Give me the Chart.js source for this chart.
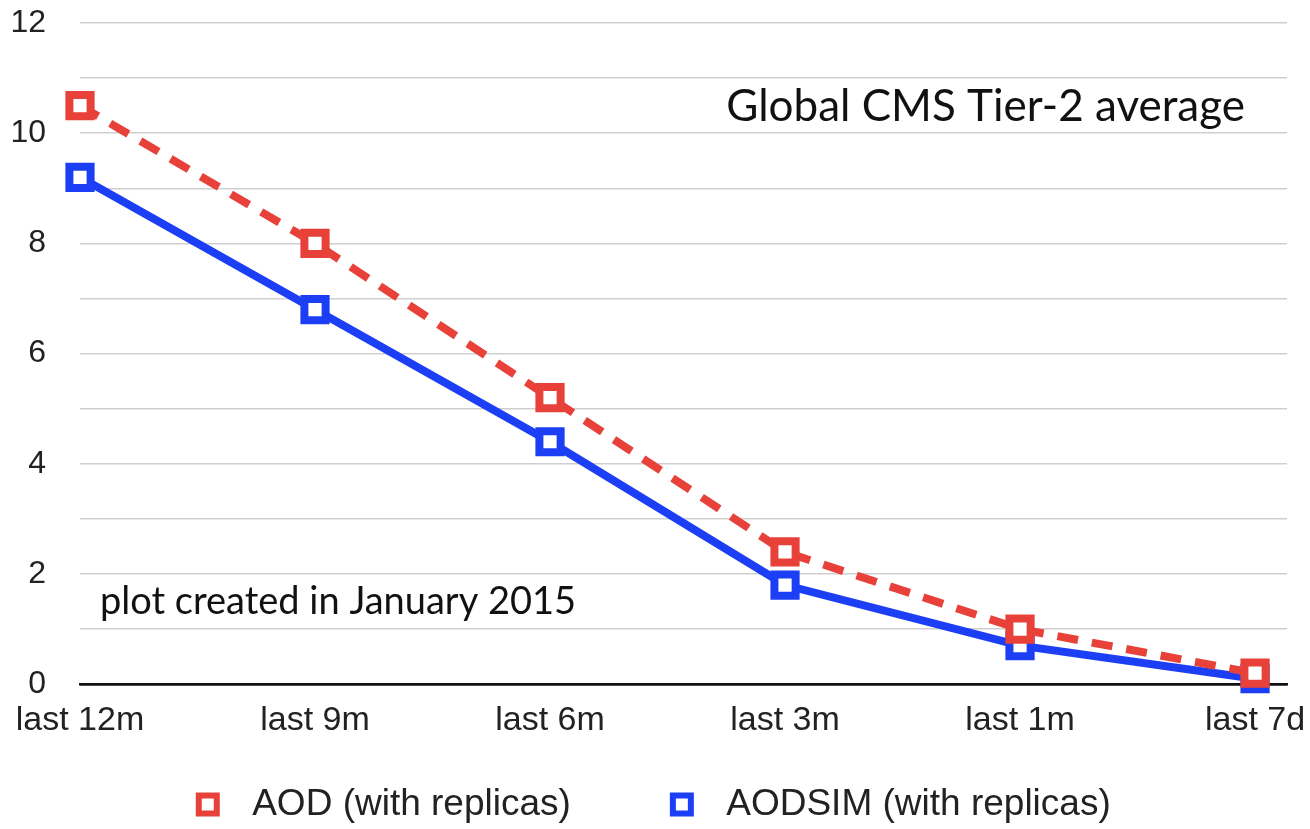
<!DOCTYPE html>
<html>
<head>
<meta charset="utf-8">
<script src="https://cdn.jsdelivr.net/npm/chart.js@4.4.1/dist/chart.umd.min.js"></script>
<style>
  html, body { margin: 0; padding: 0; background: #fff; }
  #wrap { width: 1310px; height: 829px; }
</style>
</head>
<body>
<div id="wrap"><canvas id="cmsChart"></canvas></div>
<script>
// categories and series
const periods = ["last 12m", "last 9m", "last 6m", "last 3m", "last 1m", "last 7d"];
const aodValues = [10.5, 8.0, 5.2, 2.4, 1.0, 0.2];
const aodsimValues = [9.2, 6.8, 4.4, 1.8, 0.7, 0.1];

const RED = "#e8413a";
const BLUE = "#1c3ff5";
const SANS = "'Liberation Sans', Arial, sans-serif";

const toPoints = vals => vals.map((v, i) => ({ x: i, y: v }));

// free text labels inside the plot
const notes = {
    id: "notes",
    afterDraw(chart) {
        const { ctx, chartArea } = chart;
        ctx.save();
        ctx.fillStyle = "#111";
        ctx.textBaseline = "alphabetic";
        ctx.font = "44px Lato, 'Open Sans', sans-serif";
        ctx.textAlign = "right";
        ctx.fillText("Global CMS Tier-2 average", chartArea.right - 42, 121);
        ctx.font = "38px Lato, 'Open Sans', sans-serif";
        ctx.textAlign = "left";
        ctx.fillText("plot created in January 2015", chartArea.left + 20, 614);
        ctx.restore();
    }
};

new Chart(document.getElementById("cmsChart"), {
    type: "line",
    data: {
        datasets: [
            {
                label: "AOD (with replicas)",
                data: toPoints(aodValues),
                borderColor: RED,
                borderWidth: 8,
                borderDash: [21, 14],
                pointStyle: "rect",
                pointRadius: 15,
                pointBorderWidth: 8,
                pointBorderColor: RED,
                pointBackgroundColor: "#fff",
                clip: false,
                tension: 0
            },
            {
                label: "AODSIM (with replicas)",
                data: toPoints(aodsimValues),
                borderColor: BLUE,
                borderWidth: 8,
                pointStyle: "rect",
                pointRadius: 15,
                pointBorderWidth: 8,
                pointBorderColor: BLUE,
                pointBackgroundColor: "#fff",
                clip: false,
                tension: 0
            }
        ]
    },
    options: {
        responsive: true,
        maintainAspectRatio: false,
        animation: false,
        layout: { padding: { left: 10, right: 20, top: 22, bottom: -4 } },
        scales: {
            x: {
                type: "linear",
                min: 0,
                max: 5.136,
                grid: { display: false },
                border: { display: true, color: "#111", width: 2.5 },
                afterFit(scale) {
                    scale.paddingLeft = 0;
                    scale.paddingRight = 0;
                },
                ticks: {
                    stepSize: 1,
                    includeBounds: false,
                    autoSkip: false,
                    maxRotation: 0,
                    padding: 8,
                    color: "#222",
                    font: { family: SANS, size: 34 },
                    callback: v => (Number.isInteger(v) ? periods[v] : "")
                }
            },
            y: {
                min: 0,
                max: 12,
                border: { display: false },
                afterFit(scale) {
                    scale.width = 70;
                    scale.paddingTop = 0;
                    scale.paddingBottom = 0;
                },
                grid: {
                    drawTicks: false,
                    color: ctx => (ctx.tick.value === 0 ? "#111" : "#cfcfcf"),
                    lineWidth: ctx => (ctx.tick.value === 0 ? 2.5 : 1.5)
                },
                ticks: {
                    stepSize: 1,
                    padding: 34,
                    color: "#222",
                    font: { family: SANS, size: 32 },
                    callback: v => (v % 2 === 0 ? v : "")
                }
            }
        },
        plugins: {
            tooltip: { enabled: false },
            legend: {
                position: "bottom",
                labels: {
                    usePointStyle: true,
                    boxHeight: 18,
                    padding: 37,
                    color: "#222",
                    font: { family: SANS, size: 37 },
                    generateLabels(chart) {
                        const items = Chart.defaults.plugins.legend.labels.generateLabels(chart);
                        items.forEach((it, i) => {
                            it.lineWidth = 6;
                            it.text = "\u2009" + it.text + (i === 0 ? "\u2003\u2002" : "");
                        });
                        return items;
                    }
                }
            }
        }
    },
    plugins: [notes]
});
</script>
</body>
</html>
